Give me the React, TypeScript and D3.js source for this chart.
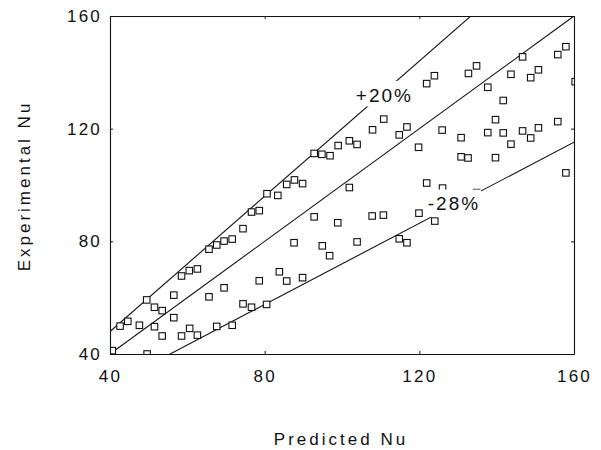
import React, { useRef, useEffect } from 'react';
import * as d3 from 'd3';

// Predicted Nu (x) and experimental Nu (y)
const predicted = [
  40.6, 42.6, 44.6, 47.6, 49.5, 51.5, 51.5, 53.5, 53.5, 49.6,
  56.5, 56.5, 58.5, 60.5, 62.6, 58.5, 60.6, 62.6, 65.6, 65.6,
  67.6, 69.5, 71.6, 69.5, 67.6, 71.6, 74.4, 74.4, 76.6, 78.6,
  80.6, 83.4, 85.7, 87.7, 89.8, 92.8, 94.8, 96.9, 99.0, 101.9,
  103.9, 101.9, 92.8, 98.9, 107.8, 87.6, 94.9, 96.8, 103.9, 78.6,
  83.8, 85.7, 89.8, 76.6, 80.5, 107.9, 110.8, 114.8, 116.8, 121.9,
  123.9, 132.7, 125.9, 119.8, 130.8, 130.8, 132.6, 121.9, 126.0, 110.7,
  119.9, 124.0, 114.8, 116.8, 134.8, 137.7, 146.7, 143.7, 148.8, 150.8,
  155.8, 157.9, 160.3, 141.7, 139.7, 137.7, 141.7, 146.7, 148.8, 143.7,
  150.8, 155.8, 139.7, 157.9, 134.8,
];
const experimental = [
  41.2, 49.9, 51.6, 50.2, 59.2, 56.6, 49.7, 55.4, 46.4, 40.0,
  60.9, 52.9, 67.7, 69.6, 70.2, 46.4, 49.1, 46.7, 60.3, 77.2,
  78.7, 80.1, 80.8, 63.5, 49.8, 50.2, 84.5, 57.8, 90.4, 90.9,
  96.9, 96.3, 100.2, 101.8, 100.5, 111.2, 110.9, 110.4, 114.0, 115.7,
  114.4, 99.1, 88.7, 86.6, 89.0, 79.5, 78.4, 74.9, 79.8, 66.0,
  69.2, 65.9, 67.1, 56.6, 57.6, 119.6, 123.4, 117.8, 120.6, 136.0,
  138.8, 139.6, 119.5, 113.4, 116.8, 110.0, 109.6, 100.7, 98.9, 89.3,
  90.0, 87.2, 80.9, 79.5, 142.3, 134.7, 145.5, 139.3, 138.1, 140.9,
  146.3, 149.1, 136.7, 130.0, 123.2, 118.6, 118.5, 119.2, 116.7, 114.5,
  120.3, 122.5, 109.7, 104.3, 97.3,
];

const tickValues = [40, 80, 120, 160];

// reference lines y = k * x
const lineRatios = [1, 1.2, 0.72];

const bandLabels = ['+20%', '-28%'];
const bandLabelX = [110.7, 128.7];
const bandLabelY = [129.5, 91.1];

const width = 601;
const height = 450;
const margin = { top: 16, right: 27, bottom: 96, left: 110 };
const font = '"Liberation Sans", Arial, sans-serif';

const App: React.FC = () => {
  const ref = useRef<SVGSVGElement>(null);

  useEffect(() => {
    if (!ref.current) return;
    const svg = d3.select(ref.current);
    svg.selectAll('*').remove();

    const w = width - margin.left - margin.right;
    const h = height - margin.top - margin.bottom;

    const x = d3.scaleLinear().domain([40, 160]).range([0, w]);
    const y = d3.scaleLinear().domain([40, 160]).range([h, 0]);

    svg.append('defs').append('clipPath').attr('id', 'plot-clip')
      .append('rect').attr('width', w).attr('height', h);

    const g = svg.append('g').attr('transform', `translate(${margin.left},${margin.top})`);

    // reference lines, clipped to the box
    const lines = g.append('g').attr('clip-path', 'url(#plot-clip)');
    lineRatios.forEach(k => {
      lines.append('path')
        .attr('fill', 'none')
        .attr('stroke', '#111')
        .attr('stroke-width', 1.1)
        .attr('d', d3.line<number>().x(d => x(d)).y(d => y(k * d))(x.domain()));
    });

    // points
    const s = 6.5;
    g.append('g').attr('clip-path', 'url(#plot-clip)')
      .selectAll('rect')
      .data(predicted.map((p, i) => [p, experimental[i]]))
      .join('rect')
      .attr('x', d => x(d[0]) - s / 2)
      .attr('y', d => y(d[1]) - s / 2)
      .attr('width', s)
      .attr('height', s)
      .attr('fill', 'white')
      .attr('stroke', '#111')
      .attr('stroke-width', 1.1);

    // labels with a white knock-out behind them
    const masks = [
      { x0: -32, x1: 32, y0: -21, y1: 4.5 },
      { x0: -23, x1: 28, y0: -20.5, y1: 7 },
    ];
    bandLabels.forEach((t, i) => {
      const lx = x(bandLabelX[i]);
      const ly = y(bandLabelY[i]);
      const m = masks[i];
      g.append('rect')
        .attr('x', lx + m.x0).attr('y', ly + m.y0)
        .attr('width', m.x1 - m.x0).attr('height', m.y1 - m.y0)
        .attr('fill', 'white');
      g.append('text')
        .attr('x', lx + 1).attr('y', ly)
        .attr('text-anchor', 'middle')
        .attr('font-family', font)
        .attr('font-size', 19)
        .attr('letter-spacing', 2)
        .attr('fill', '#111')
        .text(t);
    });

    const styleAxis = (sel: d3.Selection<SVGGElement, unknown, null, undefined>) => {
      sel.attr('font-family', font).attr('font-size', 17);
      sel.select('.domain').attr('stroke', '#111').attr('stroke-width', 1.1);
      sel.selectAll('.tick line').attr('stroke', '#111');
      sel.selectAll('.tick text').attr('fill', '#111').attr('letter-spacing', 2.2);
    };

    g.append('g')
      .attr('transform', `translate(0,${h})`)
      .call(d3.axisBottom(x).tickValues(tickValues).tickFormat(d3.format('d')).tickSizeInner(-3).tickSizeOuter(0).tickPadding(16))
      .call(styleAxis);

    g.append('g')
      .call(d3.axisLeft(y).tickValues(tickValues).tickFormat(d3.format('d')).tickSizeInner(-3).tickSizeOuter(0).tickPadding(8))
      .call(styleAxis);

    g.append('g')
      .call(d3.axisTop(x).tickValues(tickValues).tickFormat(() => '').tickSizeInner(-3).tickSizeOuter(0))
      .call(styleAxis);

    g.append('g')
      .attr('transform', `translate(${w},0)`)
      .call(d3.axisRight(y).tickValues(tickValues).tickFormat(() => '').tickSizeInner(-3).tickSizeOuter(0))
      .call(styleAxis);

    // axis titles
    svg.append('text')
      .attr('x', margin.left + w / 2 - 1)
      .attr('y', 445)
      .attr('text-anchor', 'middle')
      .attr('font-family', font)
      .attr('font-size', 17)
      .attr('letter-spacing', 3)
      .attr('fill', '#111')
      .text('Predicted Nu');

    svg.append('text')
      .attr('transform', `translate(30,${margin.top + h / 2 + 1}) rotate(-90)`)
      .attr('text-anchor', 'middle')
      .attr('font-family', font)
      .attr('font-size', 17)
      .attr('letter-spacing', 3)
      .attr('fill', '#111')
      .text('Experimental Nu');
  }, []);

  return (
    <svg
      ref={ref}
      width={width}
      height={height}
      style={{ position: 'absolute', left: 0, top: 0, background: 'white' }}
    />
  );
};

export default App;
